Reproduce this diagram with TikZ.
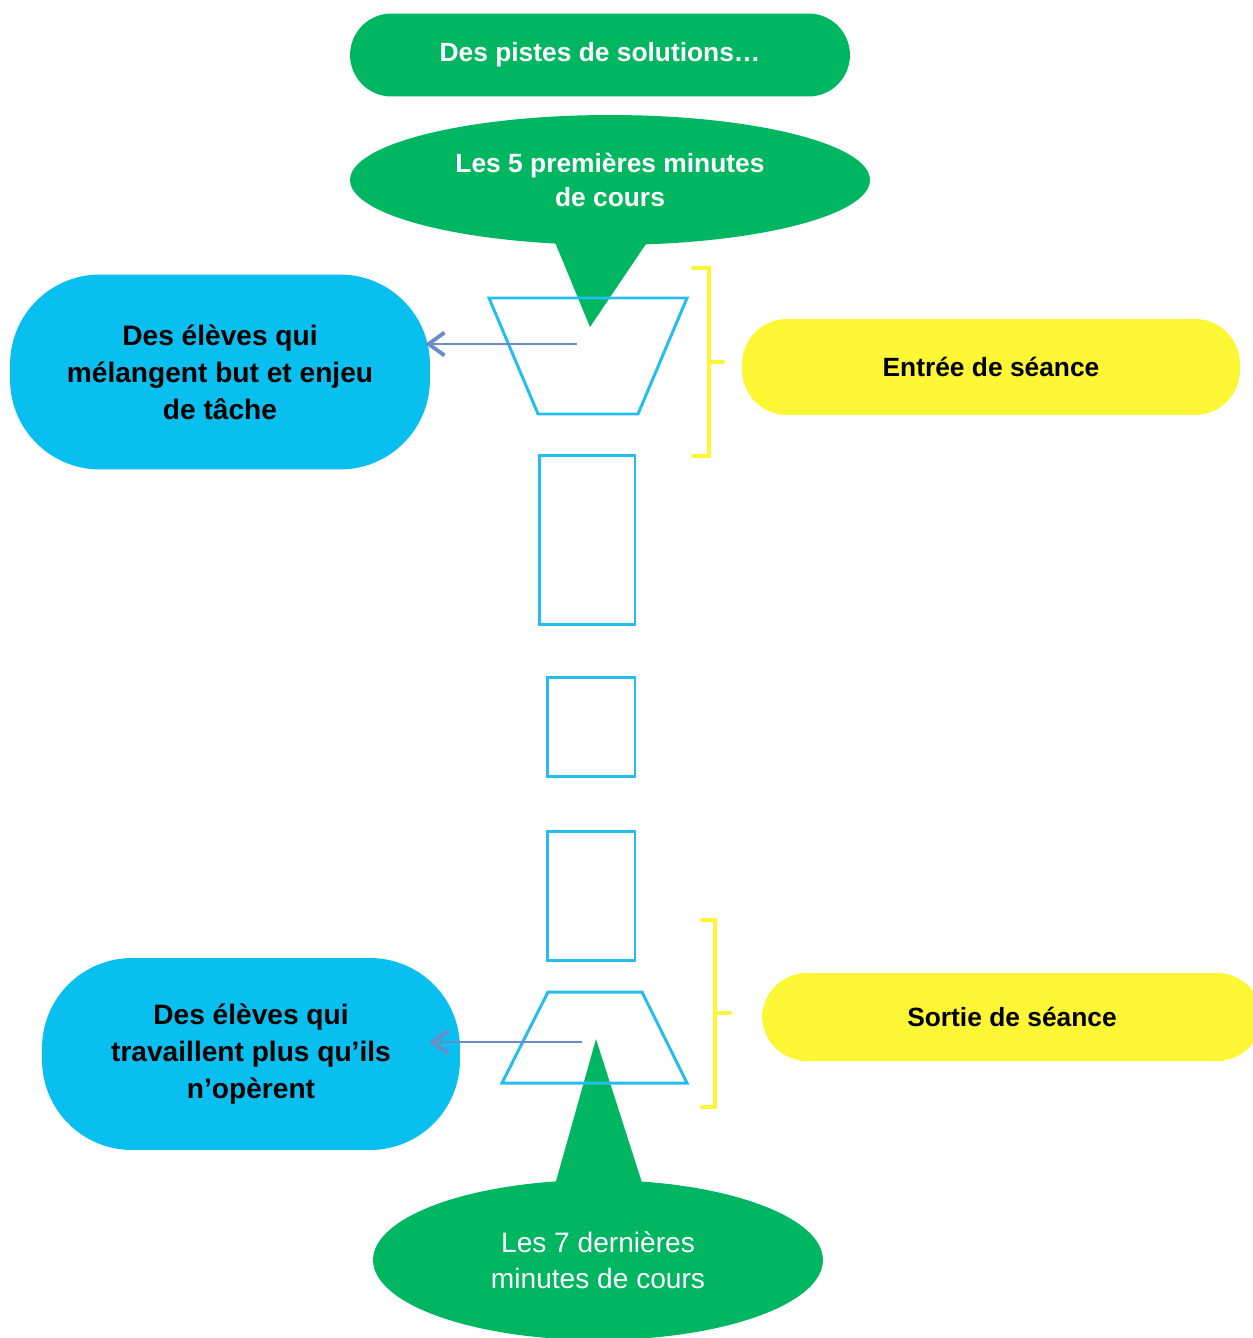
\documentclass[tikz,border=0pt]{standalone}
\usepackage{fontspec}
\setmainfont{Liberation Sans}
\usepackage{tikz}
\usetikzlibrary{arrows.meta, shapes}

\definecolor{vert}{HTML}{00B661}
\definecolor{bleu}{HTML}{09BFF0}
\definecolor{jaune}{HTML}{FCF634}
\definecolor{trait}{HTML}{25BDEF}
\definecolor{fleche}{HTML}{6A8CC7}

\begin{document}
\begin{tikzpicture}[x=0.02cm,y=-0.02cm]
            \useasboundingbox (0,0) rectangle (1252,1338);

            % bulles vertes
            \begin{scope}[every node/.style={fill=vert,text=white,align=center,
                          font=\bfseries\fontsize{15}{19}\selectfont}]
                \node[rectangle,rounded corners=0.83cm,minimum width=10cm,minimum height=1.66cm] (titre) at (600,55) {Des pistes de solutions…};
                \node[ellipse,minimum width=10.4cm,minimum height=2.6cm] (debut) at (610,180) {Les 5 premières minutes\\de cours};
                \node[ellipse,minimum width=9cm,minimum height=3.2cm,
                      font=\fontsize{16}{20.5}\selectfont] (fin) at (598,1260) {Les 7 dernières\\minutes de cours};
            \end{scope}
            \coordinate (debutpointe) at (590,327);
            \coordinate (finpointe) at (596,1039);
            \fill[vert] (552,235) -- (debutpointe) -- (652,235) -- cycle;
            \fill[vert] (553,1192) -- (finpointe) -- (645,1192) -- cycle;

            % constats
            \begin{scope}[every node/.style={fill=bleu,rounded corners=1.8cm,align=center,
                          font=\bfseries\fontsize{16}{21}\selectfont}]
                \node[minimum width=8.4cm,minimum height=3.9cm] (eleves1) at (220,372) {Des élèves qui\\mélangent but et enjeu\\de tâche};
                \node[minimum width=8.36cm,minimum height=3.84cm] (eleves2) at (251,1054) {Des élèves qui\\travaillent plus qu’ils\\n’opèrent};
            \end{scope}

            \begin{scope}[every node/.style={fill=jaune,rounded corners=0.9cm,
                          font=\bfseries\fontsize{15}{19}\selectfont}]
                \node[minimum width=9.96cm,minimum height=1.92cm] (entree) at (991,367) {Entrée de séance};
                \node[minimum width=10cm,minimum height=1.76cm] (sortie) at (1012,1017) {Sortie de séance};
            \end{scope}

            % la seance
            \begin{scope}[every node/.style={draw=trait,line width=1.7pt,inner sep=0pt},
                          line width=1.7pt, draw=trait]
                \draw (489,298) -- (687,298) -- (638,414) -- (538,414) -- cycle;
                \node[minimum width=1.92cm,minimum height=3.38cm] (etape1) at (587,540) {};
                \node[minimum width=1.76cm,minimum height=1.98cm] (etape2) at (591,727) {};
                \node[minimum width=1.76cm,minimum height=2.58cm] (etape3) at (591,896) {};
                \draw (548,992) -- (642,992) -- (687,1083) -- (502,1083) -- cycle;
            \end{scope}

            \begin{scope}[draw=jaune, line width=2.3pt, line cap=round]
                \draw (693,268) -- (709,268) -- (709,456) -- (693,456);
                \draw (709,362) -- (723,362);
                \draw (702,920) -- (715,920) -- (715,1107) -- (702,1107);
                \draw (715,1013) -- (730,1013);
            \end{scope}

            \coordinate (a1) at (577,344);
            \coordinate (a2) at (582,1042);
            \begin{scope}[>={Straight Barb[length=9pt,width=13pt,line width=2.2pt]},
                          every edge/.style={draw=fleche, line width=1.3pt}]
                \path[->] (a1) edge[shorten >=-0.1cm] (eleves1.east |- a1);
                \path[->] (a2) edge[shorten >=-0.62cm] (eleves2.east |- a2);
            \end{scope}
\end{tikzpicture}
\end{document}
